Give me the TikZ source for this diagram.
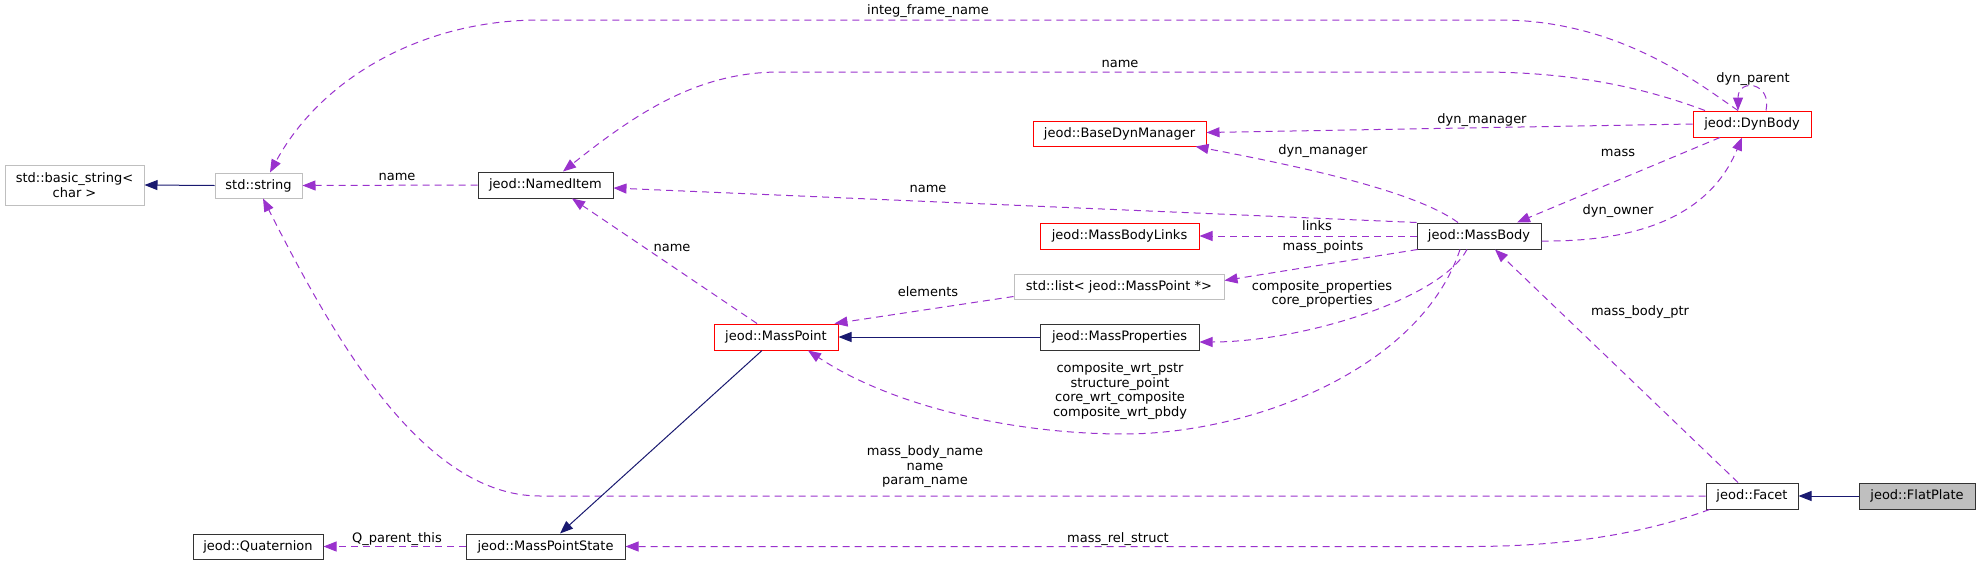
\documentclass[tikz,border=0pt]{standalone}
\usepackage{fontspec}
\setmainfont{DejaVu Sans}
\usetikzlibrary{arrows.meta,calc}
\definecolor{usec}{HTML}{9A32CD}
\definecolor{inhc}{HTML}{191970}
\definecolor{redb}{HTML}{FF0000}
\definecolor{grayb}{HTML}{BFBFBF}
\definecolor{blackb}{HTML}{333333}
\definecolor{fillg}{HTML}{BFBFBF}
\begin{document}
\begin{tikzpicture}[x=1pt,y=-1pt,
  box/.style={draw, line width=1pt, fill=white, font=\fontsize{13}{14.5}\selectfont, inner sep=0pt, align=center, anchor=center},
  blk/.style={box, draw=blackb},
  rbox/.style={box, draw=redb},
  gbox/.style={box, draw=grayb},
  use/.style={draw=usec, line width=1pt, dash pattern=on 7pt off 5pt, -{Triangle[length=13pt,width=10pt,fill=usec]}},
  inh/.style={draw=inhc, line width=1pt, -{Triangle[length=13pt,width=10pt,fill=inhc]}},
  lbl/.style={font=\fontsize{13}{14.5}\selectfont, inner sep=0pt, align=center, anchor=center}]
\useasboundingbox (0,0) rectangle (1980,565);
% nodes
\node[gbox, minimum width=139pt, minimum height=40pt] (basic) at (74.5,185) {std::basic\_string<\\char >};
\node[gbox, minimum width=87pt, minimum height=25pt] (string) at (258.5,185.5) {std::string};
\node[blk, minimum width=135pt, minimum height=26pt] (named) at (545.5,185) {jeod::NamedItem};
\node[rbox, minimum width=173pt, minimum height=25pt] (bdm) at (1119.5,133.5) {jeod::BaseDynManager};
\node[rbox, minimum width=159pt, minimum height=26pt] (mbl) at (1119.5,236) {jeod::MassBodyLinks};
\node[gbox, minimum width=210pt, minimum height=25pt] (list) at (1119,286.5) {std::list< jeod::MassPoint *>};
\node[rbox, minimum width=124pt, minimum height=26pt] (mpoint) at (776,337) {jeod::MassPoint};
\node[blk, minimum width=159pt, minimum height=26pt] (mprop) at (1119.5,337) {jeod::MassProperties};
\node[rbox, minimum width=118pt, minimum height=26pt] (dynbody) at (1752,124) {jeod::DynBody};
\node[blk, minimum width=124pt, minimum height=26pt] (massbody) at (1479,236) {jeod::MassBody};
\node[blk, minimum width=130pt, minimum height=25pt] (quat) at (258,546.5) {jeod::Quaternion};
\node[blk, minimum width=159pt, minimum height=25pt] (mps) at (545.5,546.5) {jeod::MassPointState};
\node[blk, minimum width=92pt, minimum height=26pt] (facet) at (1752,496) {jeod::Facet};
\node[blk, fill=fillg, minimum width=116pt, minimum height=26pt] (flat) at (1917,496) {jeod::FlatPlate};
% edges
\draw[inh] (string.west) -- (basic.east);
\draw[use] (named.west) -- (string.east);
\node[lbl] (l1) at (397,177) {name};
\draw[use] ($(dynbody.north)+(-14,0)$) .. controls (1700,85) and (1620,20) .. (1500,20) -- (540,20) .. controls (420,20) and (320,80) .. ($(string.north)+(11.5,0)$);
\node[lbl] (l2) at (928,11) {integ\_frame\_name};
\draw[use] (facet.west) -- (540,496) .. controls (420,496) and (330,330) .. ($(string.south)+(4.5,0)$);
\node[lbl] (l3) at (925,467) {mass\_body\_name\\name\\param\_name};
\draw[use] ($(mpoint.north)+(-19,0)$) -- ($(named.south)+(26.5,0)$);
\node[lbl] (l4) at (672,248) {name};
\draw[use] (massbody.north west) -- ($(named.east)+(0,3)$);
\node[lbl] (l5) at (928,189) {name};
\draw[use] ($(dynbody.north)+(-47,0)$) .. controls (1650,90) and (1580,72) .. (1480,72) -- (780,72) .. controls (700,72) and (640,110) .. ($(named.north)+(17.5,0)$);
\node[lbl] (l6) at (1120,64) {name};
\draw[use] (dynbody.west) -- ($(bdm.east)+(0,-1)$);
\node[lbl] (l7) at (1482,120) {dyn\_manager};
\draw[use] ($(massbody.north)+(-21,0)$) .. controls (1420,195) and (1330,172) .. ($(bdm.south east)+(-11,0)$);
\node[lbl] (l8) at (1323,151) {dyn\_manager};
\draw[use] ($(massbody.east)+(0,5)$) .. controls (1640,242) and (1710,215) .. ($(dynbody.south)+(-10,0)$);
\node[lbl] (l9) at (1618,211) {dyn\_owner};
\draw[use] ($(dynbody.south)+(-32,0)$) -- ($(massbody.north)+(38,0)$);
\node[lbl] (l10) at (1618,153) {mass};
\draw[use] ($(dynbody.north)+(14,0)$) .. controls (1772,82) and (1738,78) .. ($(dynbody.north)+(-14,0)$);
\node[lbl] (l11) at (1753,79) {dyn\_parent};
\draw[use] (massbody.west) -- (mbl.east);
\node[lbl] (l12) at (1317,226) {links};
\draw[use] ($(massbody.south west)+(1,0)$) -- ($(list.east)+(0,-6)$);
\node[lbl] (l13) at (1323,247) {mass\_points};
\draw[use] ($(list.west)+(0,10)$) -- ($(mpoint.north east)+(-4,0)$);
\node[lbl] (l14) at (928,292) {elements};
\draw[inh] (mprop.west) -- (mpoint.east);
\draw[use] ($(massbody.south)+(-12,0)$) .. controls (1440,300) and (1300,342) .. ($(mprop.east)+(0,5)$);
\node[lbl] (l15) at (1322,294) {composite\_properties\\core\_properties};
\draw[use] ($(massbody.south)+(-19,0)$) .. controls (1420,370) and (1250,434) .. (1124,434) .. controls (1010,434) and (890,405) .. ($(mpoint.south)+(32,0)$);
\node[lbl] (l16) at (1120,391) {composite\_wrt\_pstr\\structure\_point\\core\_wrt\_composite\\composite\_wrt\_pbdy};
\draw[use] ($(facet.north)+(-14,0)$) -- ($(massbody.south)+(16,0)$);
\node[lbl] (l17) at (1640,312) {mass\_body\_ptr};
\draw[use] ($(facet.south west)+(4,0)$) .. controls (1640,535) and (1560,546.5) .. (1470,546.5) -- (mps.east);
\node[lbl] (l18) at (1118,539) {mass\_rel\_struct};
\draw[inh] ($(mpoint.south)+(-14,0)$) -- ($(mps.north)+(14.5,0)$);
\draw[use] (mps.west) -- (quat.east);
\node[lbl] (l19) at (397,539) {Q\_parent\_this};
\draw[inh] (flat.west) -- (facet.east);
\end{tikzpicture}
\end{document}
